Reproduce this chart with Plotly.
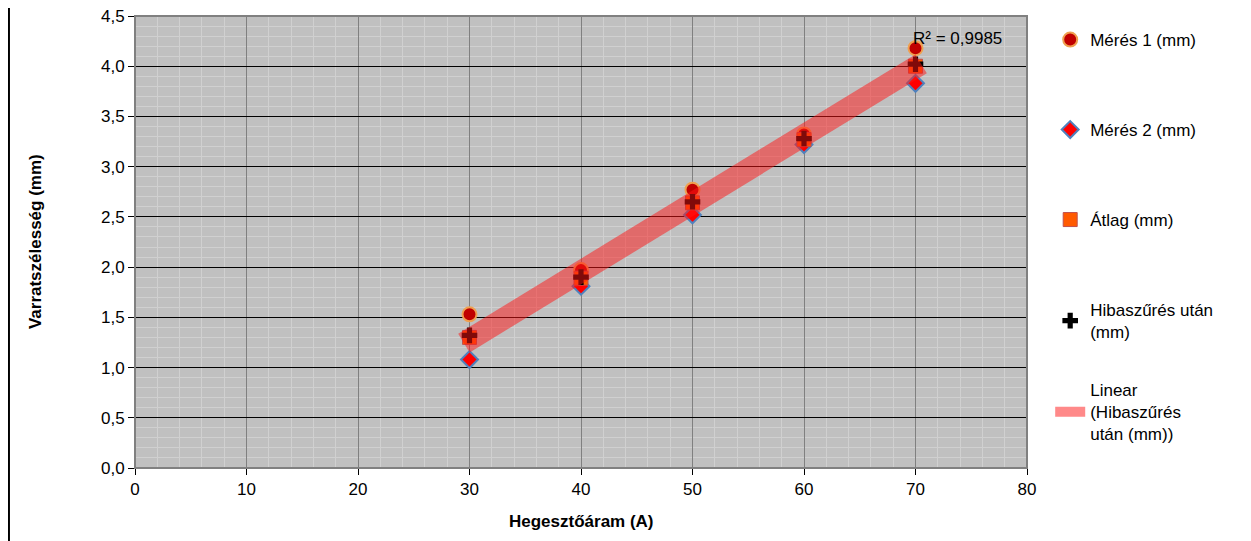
import numpy as np
import plotly.graph_objects as go

# hegesztőáram (A)
aram = [30, 40, 50, 60, 70]
meres1 = [1.53, 1.97, 2.77, 3.32, 4.18]
meres2 = [1.08, 1.81, 2.52, 3.22, 3.83]
atlag = [1.30, 1.89, 2.64, 3.27, 4.00]
hibaszures = [1.32, 1.90, 2.65, 3.28, 4.02]

# linear trend on the filtered series
k, b = np.polyfit(aram, hibaszures, 1)
trend_x = [aram[0] - 0.5, aram[-1] + 0.5]
trend_y = [k * x + b for x in trend_x]

fig = go.Figure()
fig.add_trace(go.Scatter(x=aram, y=meres1, mode="markers", name="Mérés 1 (mm)",
                         legend="legend",
                         marker=dict(symbol="circle", size=14, color="#c00000",
                                     line=dict(color="#f0a050", width=2))))
fig.add_trace(go.Scatter(x=aram, y=meres2, mode="markers", name="Mérés 2 (mm)",
                         legend="legend2",
                         marker=dict(symbol="diamond", size=13, color="#ff0000",
                                     line=dict(color="#4f81bd", width=2))))
fig.add_trace(go.Scatter(x=aram, y=atlag, mode="markers", name="Átlag (mm)",
                         legend="legend3",
                         marker=dict(symbol="square", size=14, color="#ff5a00",
                                     line=dict(color="#c0504d", width=1))))
fig.add_trace(go.Scatter(x=aram, y=hibaszures, mode="markers", name="Hibaszűrés után<br>(mm)",
                         legend="legend4",
                         marker=dict(symbol="cross", size=13, color="#000000")))
fig.add_trace(go.Scatter(x=trend_x, y=trend_y, mode="lines",
                         name="Linear<br>(Hibaszűrés<br>után (mm))",
                         legend="legend5",
                         line=dict(color="rgba(255,20,20,0.5)", width=22)))

fig.add_annotation(x=69.6, y=4.28, text="R² = 0,9985", showarrow=False,
                   xanchor="left", yanchor="middle",
                   font=dict(size=17, color="black"))

# axis titles
fig.add_annotation(xref="paper", yref="paper", x=-0.112, y=0.5, textangle=-90,
                   text="<b>Varratszélesség (mm)</b>", showarrow=False,
                   xanchor="center", yanchor="middle", font=dict(size=17, color="black"))
fig.add_annotation(xref="paper", yref="paper", x=0.5, y=-0.119,
                   text="<b>Hegesztőáram (A)</b>", showarrow=False,
                   xanchor="center", yanchor="middle", font=dict(size=17, color="black"))

# outer chart border (left and right edges)
fig.add_shape(type="line", xref="paper", yref="paper", x0=-0.1413, x1=-0.1413,
              y0=-0.2, y1=1.05, line=dict(color="black", width=2))
fig.add_shape(type="line", xref="paper", yref="paper", x0=1.2478, x1=1.2478,
              y0=-0.2, y1=1.05, line=dict(color="black", width=2))

fig.update_xaxes(range=[0, 80], dtick=10, showgrid=True, gridcolor="#808080", gridwidth=1,
                 minor=dict(dtick=2, showgrid=True, gridcolor="#d0d0d0", gridwidth=1),
                 showline=True, linecolor="black", linewidth=1, mirror=False,
                 ticks="outside", ticklen=6, tickcolor="black", zeroline=False,
                 tickfont=dict(size=17, color="black"), automargin=False)
fig.update_yaxes(range=[0, 4.5], dtick=0.5, tickformat=".1f", showgrid=True,
                 gridcolor="black", gridwidth=1,
                 minor=dict(dtick=0.1, showgrid=True, gridcolor="#d0d0d0", gridwidth=1),
                 showline=True, linecolor="black", linewidth=1,
                 ticks="outside", ticklen=6, tickcolor="black", zeroline=False,
                 tickfont=dict(size=17, color="black"), automargin=False,
                 ticklabeloverflow="allow")

# gray top/right frame of the plot area
fig.add_shape(type="rect", xref="paper", yref="paper", x0=0, x1=1, y0=0, y1=1,
              line=dict(color="#808080", width=2), layer="above")

leg = dict(x=1.026, xanchor="left", yanchor="top", font=dict(size=17),
           bgcolor="rgba(0,0,0,0)", visible=True)
fig.update_layout(
    width=1251, height=541,
    margin=dict(l=127, r=232, t=8, b=81, autoexpand=False),
    paper_bgcolor="white", plot_bgcolor="#c0c0c0",
    separators=", ",
    showlegend=True,
    font=dict(family="Liberation Sans, Arial, sans-serif", size=17, color="black"),
    legend=dict(leg, y=(460 - 14) / 452),
    legend2=dict(leg, y=(460 - 104) / 452),
    legend3=dict(leg, y=(460 - 194) / 452),
    legend4=dict(leg, y=(460 - 284) / 452),
    legend5=dict(leg, y=(460 - 364) / 452),
)

fig.write_html("out.html")
